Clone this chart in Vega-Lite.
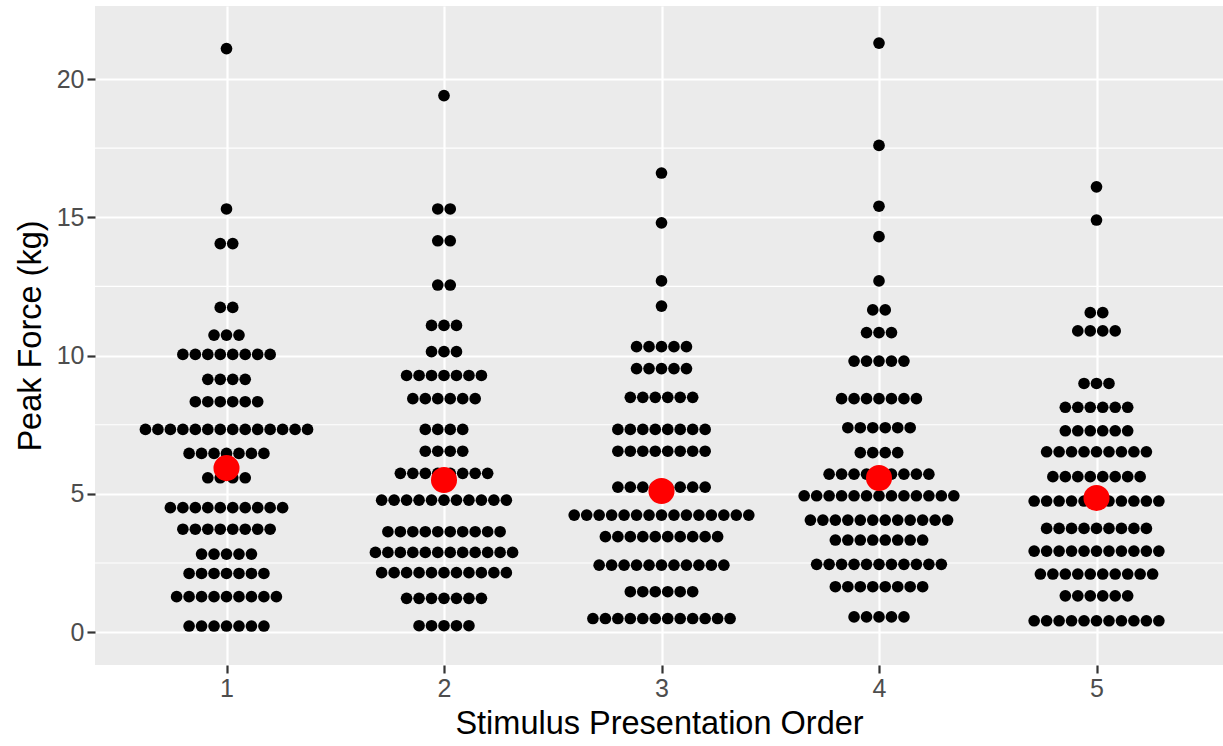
{
  "$schema": "https://vega.github.io/schema/vega-lite/v6.json",
  "width": 1128,
  "height": 659,
  "autosize": "none",
  "padding": {"left": 95, "top": 6, "right": 0, "bottom": 81},
  "background": "white",
  "config": {
    "view": {"fill": "#EBEBEB", "stroke": null},
    "font": "Liberation Sans",
    "axis": {
      "domain": false,
      "grid": true,
      "gridColor": "white",
      "gridWidth": 2.2,
      "tickColor": "#333333",
      "tickWidth": 2.2,
      "tickSize": 8,
      "labelColor": "#4D4D4D",
      "labelFontSize": 25,
      "labelFont": "Liberation Sans",
      "titleFont": "Liberation Sans",
      "titleFontSize": 32.5,
      "titleFontWeight": "normal",
      "titleColor": "black"
    }
  },
  "datasets": {
    "dots": [
      {"g":1,"y":21.1},{"g":1,"y":15.3},{"g":1,"y":14.05},{"g":1,"y":14.05},
      {"g":1,"y":11.74},{"g":1,"y":11.74},
      {"g":1,"y":10.74},{"g":1,"y":10.74},{"g":1,"y":10.74},
      {"g":1,"y":10.04},{"g":1,"y":10.04},{"g":1,"y":10.04},{"g":1,"y":10.04},{"g":1,"y":10.04},{"g":1,"y":10.04},{"g":1,"y":10.04},{"g":1,"y":10.04},
      {"g":1,"y":9.14},{"g":1,"y":9.14},{"g":1,"y":9.14},{"g":1,"y":9.14},
      {"g":1,"y":8.33},{"g":1,"y":8.33},{"g":1,"y":8.33},{"g":1,"y":8.33},{"g":1,"y":8.33},{"g":1,"y":8.33},
      {"g":1,"y":7.33},{"g":1,"y":7.33},{"g":1,"y":7.33},{"g":1,"y":7.33},{"g":1,"y":7.33},{"g":1,"y":7.33},{"g":1,"y":7.33},{"g":1,"y":7.33},{"g":1,"y":7.33},{"g":1,"y":7.33},{"g":1,"y":7.33},{"g":1,"y":7.33},{"g":1,"y":7.33},{"g":1,"y":7.33},
      {"g":1,"y":6.46},{"g":1,"y":6.46},{"g":1,"y":6.46},{"g":1,"y":6.46},{"g":1,"y":6.46},{"g":1,"y":6.46},{"g":1,"y":6.46},
      {"g":1,"y":5.58},{"g":1,"y":5.58},{"g":1,"y":5.58},{"g":1,"y":5.58},
      {"g":1,"y":4.5},{"g":1,"y":4.5},{"g":1,"y":4.5},{"g":1,"y":4.5},{"g":1,"y":4.5},{"g":1,"y":4.5},{"g":1,"y":4.5},{"g":1,"y":4.5},{"g":1,"y":4.5},{"g":1,"y":4.5},
      {"g":1,"y":3.72},{"g":1,"y":3.72},{"g":1,"y":3.72},{"g":1,"y":3.72},{"g":1,"y":3.72},{"g":1,"y":3.72},{"g":1,"y":3.72},{"g":1,"y":3.72},
      {"g":1,"y":2.82},{"g":1,"y":2.82},{"g":1,"y":2.82},{"g":1,"y":2.82},{"g":1,"y":2.82},
      {"g":1,"y":2.12},{"g":1,"y":2.12},{"g":1,"y":2.12},{"g":1,"y":2.12},{"g":1,"y":2.12},{"g":1,"y":2.12},{"g":1,"y":2.12},
      {"g":1,"y":1.28},{"g":1,"y":1.28},{"g":1,"y":1.28},{"g":1,"y":1.28},{"g":1,"y":1.28},{"g":1,"y":1.28},{"g":1,"y":1.28},{"g":1,"y":1.28},{"g":1,"y":1.28},
      {"g":1,"y":0.22},{"g":1,"y":0.22},{"g":1,"y":0.22},{"g":1,"y":0.22},{"g":1,"y":0.22},{"g":1,"y":0.22},{"g":1,"y":0.22},

      {"g":2,"y":19.4},{"g":2,"y":15.3},{"g":2,"y":15.3},{"g":2,"y":14.15},{"g":2,"y":14.15},{"g":2,"y":12.55},{"g":2,"y":12.55},
      {"g":2,"y":11.09},{"g":2,"y":11.09},{"g":2,"y":11.09},
      {"g":2,"y":10.14},{"g":2,"y":10.14},{"g":2,"y":10.14},
      {"g":2,"y":9.28},{"g":2,"y":9.28},{"g":2,"y":9.28},{"g":2,"y":9.28},{"g":2,"y":9.28},{"g":2,"y":9.28},{"g":2,"y":9.28},
      {"g":2,"y":8.44},{"g":2,"y":8.44},{"g":2,"y":8.44},{"g":2,"y":8.44},{"g":2,"y":8.44},{"g":2,"y":8.44},
      {"g":2,"y":7.33},{"g":2,"y":7.33},{"g":2,"y":7.33},{"g":2,"y":7.33},
      {"g":2,"y":6.54},{"g":2,"y":6.54},{"g":2,"y":6.54},{"g":2,"y":6.54},
      {"g":2,"y":5.74},{"g":2,"y":5.74},{"g":2,"y":5.74},{"g":2,"y":5.74},{"g":2,"y":5.74},{"g":2,"y":5.74},{"g":2,"y":5.74},{"g":2,"y":5.74},
      {"g":2,"y":4.77},{"g":2,"y":4.77},{"g":2,"y":4.77},{"g":2,"y":4.77},{"g":2,"y":4.77},{"g":2,"y":4.77},{"g":2,"y":4.77},{"g":2,"y":4.77},{"g":2,"y":4.77},{"g":2,"y":4.77},{"g":2,"y":4.77},
      {"g":2,"y":3.63},{"g":2,"y":3.63},{"g":2,"y":3.63},{"g":2,"y":3.63},{"g":2,"y":3.63},{"g":2,"y":3.63},{"g":2,"y":3.63},{"g":2,"y":3.63},{"g":2,"y":3.63},{"g":2,"y":3.63},
      {"g":2,"y":2.88},{"g":2,"y":2.88},{"g":2,"y":2.88},{"g":2,"y":2.88},{"g":2,"y":2.88},{"g":2,"y":2.88},{"g":2,"y":2.88},{"g":2,"y":2.88},{"g":2,"y":2.88},{"g":2,"y":2.88},{"g":2,"y":2.88},{"g":2,"y":2.88},
      {"g":2,"y":2.15},{"g":2,"y":2.15},{"g":2,"y":2.15},{"g":2,"y":2.15},{"g":2,"y":2.15},{"g":2,"y":2.15},{"g":2,"y":2.15},{"g":2,"y":2.15},{"g":2,"y":2.15},{"g":2,"y":2.15},{"g":2,"y":2.15},
      {"g":2,"y":1.22},{"g":2,"y":1.22},{"g":2,"y":1.22},{"g":2,"y":1.22},{"g":2,"y":1.22},{"g":2,"y":1.22},{"g":2,"y":1.22},
      {"g":2,"y":0.23},{"g":2,"y":0.23},{"g":2,"y":0.23},{"g":2,"y":0.23},{"g":2,"y":0.23},

      {"g":3,"y":16.6},{"g":3,"y":14.8},{"g":3,"y":12.7},{"g":3,"y":11.79},
      {"g":3,"y":10.32},{"g":3,"y":10.32},{"g":3,"y":10.32},{"g":3,"y":10.32},{"g":3,"y":10.32},
      {"g":3,"y":9.53},{"g":3,"y":9.53},{"g":3,"y":9.53},{"g":3,"y":9.53},{"g":3,"y":9.53},
      {"g":3,"y":8.49},{"g":3,"y":8.49},{"g":3,"y":8.49},{"g":3,"y":8.49},{"g":3,"y":8.49},{"g":3,"y":8.49},
      {"g":3,"y":7.33},{"g":3,"y":7.33},{"g":3,"y":7.33},{"g":3,"y":7.33},{"g":3,"y":7.33},{"g":3,"y":7.33},{"g":3,"y":7.33},{"g":3,"y":7.33},
      {"g":3,"y":6.54},{"g":3,"y":6.54},{"g":3,"y":6.54},{"g":3,"y":6.54},{"g":3,"y":6.54},{"g":3,"y":6.54},{"g":3,"y":6.54},{"g":3,"y":6.54},
      {"g":3,"y":5.24},{"g":3,"y":5.24},{"g":3,"y":5.24},{"g":3,"y":5.24},{"g":3,"y":5.24},{"g":3,"y":5.24},{"g":3,"y":5.24},{"g":3,"y":5.24},
      {"g":3,"y":4.23},{"g":3,"y":4.23},{"g":3,"y":4.23},{"g":3,"y":4.23},{"g":3,"y":4.23},{"g":3,"y":4.23},{"g":3,"y":4.23},{"g":3,"y":4.23},{"g":3,"y":4.23},{"g":3,"y":4.23},{"g":3,"y":4.23},{"g":3,"y":4.23},{"g":3,"y":4.23},{"g":3,"y":4.23},{"g":3,"y":4.23},
      {"g":3,"y":3.45},{"g":3,"y":3.45},{"g":3,"y":3.45},{"g":3,"y":3.45},{"g":3,"y":3.45},{"g":3,"y":3.45},{"g":3,"y":3.45},{"g":3,"y":3.45},{"g":3,"y":3.45},{"g":3,"y":3.45},
      {"g":3,"y":2.42},{"g":3,"y":2.42},{"g":3,"y":2.42},{"g":3,"y":2.42},{"g":3,"y":2.42},{"g":3,"y":2.42},{"g":3,"y":2.42},{"g":3,"y":2.42},{"g":3,"y":2.42},{"g":3,"y":2.42},{"g":3,"y":2.42},
      {"g":3,"y":1.46},{"g":3,"y":1.46},{"g":3,"y":1.46},{"g":3,"y":1.46},{"g":3,"y":1.46},{"g":3,"y":1.46},
      {"g":3,"y":0.49},{"g":3,"y":0.49},{"g":3,"y":0.49},{"g":3,"y":0.49},{"g":3,"y":0.49},{"g":3,"y":0.49},{"g":3,"y":0.49},{"g":3,"y":0.49},{"g":3,"y":0.49},{"g":3,"y":0.49},{"g":3,"y":0.49},{"g":3,"y":0.49},

      {"g":4,"y":21.3},{"g":4,"y":17.6},{"g":4,"y":15.4},{"g":4,"y":14.3},{"g":4,"y":12.7},
      {"g":4,"y":11.65},{"g":4,"y":11.65},
      {"g":4,"y":10.83},{"g":4,"y":10.83},{"g":4,"y":10.83},
      {"g":4,"y":9.8},{"g":4,"y":9.8},{"g":4,"y":9.8},{"g":4,"y":9.8},{"g":4,"y":9.8},
      {"g":4,"y":8.44},{"g":4,"y":8.44},{"g":4,"y":8.44},{"g":4,"y":8.44},{"g":4,"y":8.44},{"g":4,"y":8.44},{"g":4,"y":8.44},
      {"g":4,"y":7.39},{"g":4,"y":7.39},{"g":4,"y":7.39},{"g":4,"y":7.39},{"g":4,"y":7.39},{"g":4,"y":7.39},
      {"g":4,"y":6.49},{"g":4,"y":6.49},{"g":4,"y":6.49},{"g":4,"y":6.49},
      {"g":4,"y":5.71},{"g":4,"y":5.71},{"g":4,"y":5.71},{"g":4,"y":5.71},{"g":4,"y":5.71},{"g":4,"y":5.71},{"g":4,"y":5.71},{"g":4,"y":5.71},{"g":4,"y":5.71},
      {"g":4,"y":4.93},{"g":4,"y":4.93},{"g":4,"y":4.93},{"g":4,"y":4.93},{"g":4,"y":4.93},{"g":4,"y":4.93},{"g":4,"y":4.93},{"g":4,"y":4.93},{"g":4,"y":4.93},{"g":4,"y":4.93},{"g":4,"y":4.93},{"g":4,"y":4.93},{"g":4,"y":4.93},
      {"g":4,"y":4.05},{"g":4,"y":4.05},{"g":4,"y":4.05},{"g":4,"y":4.05},{"g":4,"y":4.05},{"g":4,"y":4.05},{"g":4,"y":4.05},{"g":4,"y":4.05},{"g":4,"y":4.05},{"g":4,"y":4.05},{"g":4,"y":4.05},{"g":4,"y":4.05},
      {"g":4,"y":3.33},{"g":4,"y":3.33},{"g":4,"y":3.33},{"g":4,"y":3.33},{"g":4,"y":3.33},{"g":4,"y":3.33},{"g":4,"y":3.33},{"g":4,"y":3.33},
      {"g":4,"y":2.45},{"g":4,"y":2.45},{"g":4,"y":2.45},{"g":4,"y":2.45},{"g":4,"y":2.45},{"g":4,"y":2.45},{"g":4,"y":2.45},{"g":4,"y":2.45},{"g":4,"y":2.45},{"g":4,"y":2.45},{"g":4,"y":2.45},
      {"g":4,"y":1.64},{"g":4,"y":1.64},{"g":4,"y":1.64},{"g":4,"y":1.64},{"g":4,"y":1.64},{"g":4,"y":1.64},{"g":4,"y":1.64},{"g":4,"y":1.64},
      {"g":4,"y":0.55},{"g":4,"y":0.55},{"g":4,"y":0.55},{"g":4,"y":0.55},{"g":4,"y":0.55},

      {"g":5,"y":16.1},{"g":5,"y":14.9},
      {"g":5,"y":11.55},{"g":5,"y":11.55},
      {"g":5,"y":10.89},{"g":5,"y":10.89},{"g":5,"y":10.89},{"g":5,"y":10.89},
      {"g":5,"y":8.99},{"g":5,"y":8.99},{"g":5,"y":8.99},
      {"g":5,"y":8.13},{"g":5,"y":8.13},{"g":5,"y":8.13},{"g":5,"y":8.13},{"g":5,"y":8.13},{"g":5,"y":8.13},
      {"g":5,"y":7.28},{"g":5,"y":7.28},{"g":5,"y":7.28},{"g":5,"y":7.28},{"g":5,"y":7.28},{"g":5,"y":7.28},
      {"g":5,"y":6.52},{"g":5,"y":6.52},{"g":5,"y":6.52},{"g":5,"y":6.52},{"g":5,"y":6.52},{"g":5,"y":6.52},{"g":5,"y":6.52},{"g":5,"y":6.52},{"g":5,"y":6.52},
      {"g":5,"y":5.62},{"g":5,"y":5.62},{"g":5,"y":5.62},{"g":5,"y":5.62},{"g":5,"y":5.62},{"g":5,"y":5.62},{"g":5,"y":5.62},{"g":5,"y":5.62},
      {"g":5,"y":4.74},{"g":5,"y":4.74},{"g":5,"y":4.74},{"g":5,"y":4.74},{"g":5,"y":4.74},{"g":5,"y":4.74},{"g":5,"y":4.74},{"g":5,"y":4.74},{"g":5,"y":4.74},{"g":5,"y":4.74},{"g":5,"y":4.74},
      {"g":5,"y":3.75},{"g":5,"y":3.75},{"g":5,"y":3.75},{"g":5,"y":3.75},{"g":5,"y":3.75},{"g":5,"y":3.75},{"g":5,"y":3.75},{"g":5,"y":3.75},{"g":5,"y":3.75},
      {"g":5,"y":2.93},{"g":5,"y":2.93},{"g":5,"y":2.93},{"g":5,"y":2.93},{"g":5,"y":2.93},{"g":5,"y":2.93},{"g":5,"y":2.93},{"g":5,"y":2.93},{"g":5,"y":2.93},{"g":5,"y":2.93},{"g":5,"y":2.93},
      {"g":5,"y":2.1},{"g":5,"y":2.1},{"g":5,"y":2.1},{"g":5,"y":2.1},{"g":5,"y":2.1},{"g":5,"y":2.1},{"g":5,"y":2.1},{"g":5,"y":2.1},{"g":5,"y":2.1},{"g":5,"y":2.1},
      {"g":5,"y":1.31},{"g":5,"y":1.31},{"g":5,"y":1.31},{"g":5,"y":1.31},{"g":5,"y":1.31},{"g":5,"y":1.31},
      {"g":5,"y":0.41},{"g":5,"y":0.41},{"g":5,"y":0.41},{"g":5,"y":0.41},{"g":5,"y":0.41},{"g":5,"y":0.41},{"g":5,"y":0.41},{"g":5,"y":0.41},{"g":5,"y":0.41},{"g":5,"y":0.41},{"g":5,"y":0.41}
    ],
    "means": [
      {"g":1,"y":5.93},{"g":2,"y":5.5},{"g":3,"y":5.1},{"g":4,"y":5.57},{"g":5,"y":4.85}
    ],
    "minor": [{"y":2.5},{"y":7.5},{"y":12.5},{"y":17.5}]
  },
  "layer": [
    {
      "data": {"name": "minor"},
      "mark": {"type": "rule", "color": "white", "strokeWidth": 1.1},
      "encoding": {
        "y": {
          "field": "y", "type": "quantitative",
          "scale": {"domain": [-1.19, 22.64], "nice": false, "zero": false},
          "axis": {"values": [0,5,10,15,20], "title": "Peak Force (kg)", "labelPadding": 3, "titlePadding": 9}
        }
      }
    },
    {
      "data": {"name": "dots"},
      "transform": [
        {"joinaggregate": [{"op": "count", "as": "n"}], "groupby": ["g", "y"]},
        {"window": [{"op": "row_number", "as": "k"}], "groupby": ["g", "y"]},
        {"calculate": "datum.g + (datum.k - (datum.n + 1) / 2) * 0.05733", "as": "xpos"}
      ],
      "mark": {"type": "circle", "color": "black", "opacity": 1, "size": 136},
      "encoding": {
        "x": {
          "field": "xpos", "type": "quantitative",
          "scale": {"domain": [0.3954, 5.5816], "nice": false, "zero": false},
          "axis": {"values": [1,2,3,4,5], "format": "d", "title": "Stimulus Presentation Order", "labelPadding": 3, "titlePadding": 6}
        },
        "y": {"field": "y", "type": "quantitative"}
      }
    },
    {
      "data": {"name": "means"},
      "mark": {"type": "circle", "color": "#FF0000", "opacity": 1, "size": 680},
      "encoding": {
        "x": {"field": "g", "type": "quantitative"},
        "y": {"field": "y", "type": "quantitative"}
      }
    }
  ]
}
